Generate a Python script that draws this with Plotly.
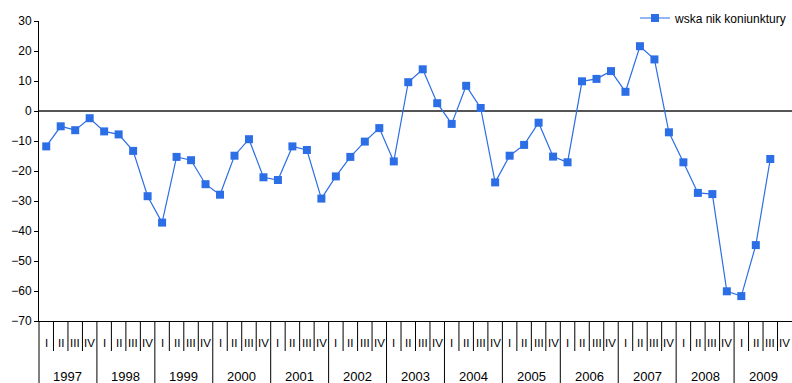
import plotly.graph_objects as go

# Quarterly business-climate indicator, 1997 Q1 - 2009 Q3
years = ["1997", "1998", "1999", "2000", "2001", "2002", "2003",
         "2004", "2005", "2006", "2007", "2008", "2009"]
quarters = ["I", "II", "III", "IV"]
indicator = [
    -11.8, -5.1, -6.4, -2.4,      # 1997
    -6.8, -7.8, -13.3, -28.4,     # 1998
    -37.2, -15.3, -16.4, -24.4,   # 1999
    -27.9, -14.9, -9.4, -22.1,    # 2000
    -23.0, -11.8, -13.0, -29.2,   # 2001
    -21.8, -15.3, -10.2, -5.7,    # 2002
    -16.8, 9.6, 13.9, 2.6,        # 2003
    -4.3, 8.4, 1.0, -23.8,        # 2004
    -14.9, -11.3, -3.9, -15.2,    # 2005
    -17.1, 9.9, 10.7, 13.3,       # 2006
    6.4, 21.6, 17.2, -7.1,        # 2007
    -17.1, -27.3, -27.7, -60.1,   # 2008
    -61.7, -44.7, -16.0,          # 2009
]
series_name = "wska nik koniunktury"

W, H = 792, 383
M_L, M_R, M_T, M_B = 39, 0, 21, 62
plot_w = W - M_L - M_R
plot_h = H - M_T - M_B
n_slots = len(years) * len(quarters)

BLUE = "#2c6ee6"
FONT = "Arial, Liberation Sans, sans-serif"

fig = go.Figure()
fig.add_trace(go.Scatter(
    x=list(range(len(indicator))),
    y=indicator,
    mode="lines+markers",
    name=series_name,
    line=dict(color=BLUE, width=1.2),
    marker=dict(symbol="square", size=8, color=BLUE),
))

def px_to_paper(px_below):
    return -px_below / plot_h

shapes = []
annotations = []

# left axis line continued down through the category label band
shapes.append(dict(type="line", xref="paper", yref="paper",
                   x0=0, x1=0, y0=px_to_paper(M_B), y1=0,
                   line=dict(color="black", width=1)))

# separators between quarters (short) and between years (full height)
for k in range(1, n_slots):
    b = k - 0.5
    year_edge = (k % len(quarters) == 0)
    shapes.append(dict(type="line", xref="x", yref="paper",
                       x0=b, x1=b,
                       y0=px_to_paper(M_B if year_edge else 30), y1=0,
                       line=dict(color="black", width=1)))

# quarter labels
for k in range(n_slots):
    annotations.append(dict(x=k, y=px_to_paper(22), xref="x", yref="paper",
                            text=quarters[k % len(quarters)], showarrow=False,
                            font=dict(family=FONT, size=11.5, color="black"),
                            xanchor="center", yanchor="middle"))

# year labels
for j, yr in enumerate(years):
    annotations.append(dict(x=j * len(quarters) + 1.5, y=px_to_paper(55),
                            xref="x", yref="paper", text=yr, showarrow=False,
                            font=dict(family=FONT, size=13, color="black"),
                            xanchor="center", yanchor="middle"))

fig.update_layout(
    width=W, height=H,
    margin=dict(l=M_L, r=M_R, t=M_T, b=M_B, pad=0, autoexpand=False),
    paper_bgcolor="white", plot_bgcolor="white",
    font=dict(family=FONT, size=12, color="black"),
    showlegend=True,
    legend=dict(x=1.0, y=1.0 + 3 / plot_h,
                xanchor="right", yanchor="middle",
                bgcolor="rgba(0,0,0,0)", font=dict(family=FONT, size=12, color="black"),
                itemwidth=30),
    xaxis=dict(range=[-0.5, n_slots - 0.5], showticklabels=False, ticks="",
               showgrid=False, zeroline=False, showline=True,
               linecolor="black", linewidth=1),
    yaxis=dict(range=[-70, 30], dtick=10, tick0=0, ticks="outside", ticklen=4,
               tickcolor="black", showgrid=False, showline=True,
               linecolor="black", linewidth=1,
               zeroline=True, zerolinecolor="#555555", zerolinewidth=2,
               tickfont=dict(family=FONT, size=12, color="black")),
    shapes=shapes,
    annotations=annotations,
)

fig.write_html("out.html")
